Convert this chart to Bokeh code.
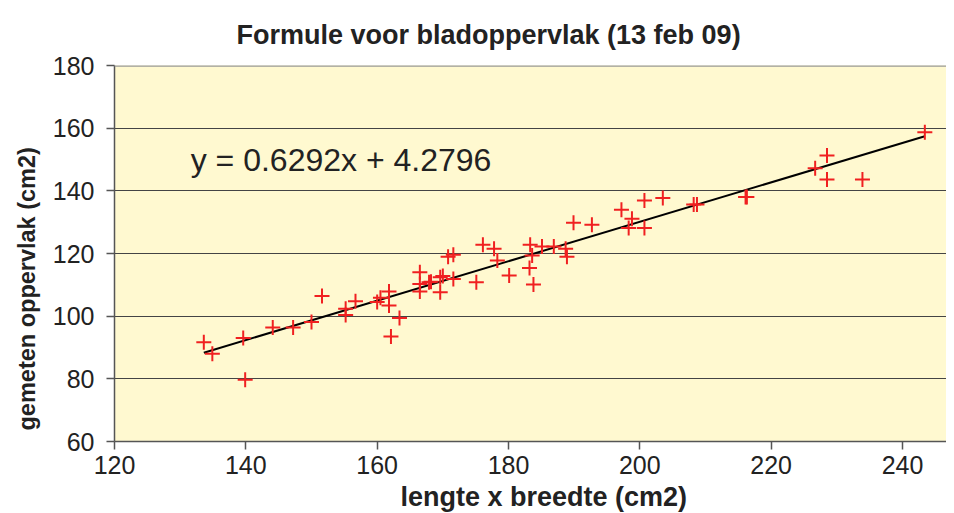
from bokeh.plotting import figure
from bokeh.models import Range1d, FixedTicker, Label, Span, ColumnDataSource, Title
from bokeh.embed import file_html
from bokeh.resources import INLINE

# ---- data ----
lengte_x_breedte = [133.6, 134.9, 139.6, 139.9, 144.1, 147.2, 150.0, 151.6, 155.2, 155.2,
                    156.7, 160.0, 160.5, 161.8, 161.8, 162.1, 163.4, 166.5, 166.5, 166.5,
                    167.9, 168.2, 169.6, 169.6, 170.0, 170.8, 171.6, 171.6, 175.1, 176.1,
                    177.8, 178.3, 180.1, 183.3, 183.6, 183.2, 183.8, 185.1, 186.9, 188.7,
                    188.9, 189.9, 192.7, 197.2, 198.8, 198.3, 200.7, 200.7, 203.5, 208.2,
                    208.7, 216.1, 216.3, 226.7, 228.5, 228.5, 233.9, 243.4]
gemeten_oppervlak = [91.7, 88.0, 93.0, 79.7, 96.4, 96.4, 98.1, 106.4, 102.4, 100.4,
                     104.8, 104.5, 105.9, 107.9, 103.4, 93.5, 99.4, 114.0, 110.3, 107.9,
                     110.8, 111.0, 112.4, 107.6, 112.8, 119.0, 119.6, 111.9, 110.8, 122.8,
                     121.5, 117.8, 113.0, 122.8, 119.4, 115.4, 110.1, 122.2, 122.2, 121.5,
                     119.0, 129.8, 129.2, 134.0, 131.1, 128.1, 136.9, 128.1, 137.7, 135.6,
                     135.6, 138.0, 138.0, 147.2, 151.3, 143.6, 143.6, 158.7]
slope = 0.6292
intercept = 4.2796
x_ticks = [120, 140, 160, 180, 200, 220, 240]
y_ticks = [60, 80, 100, 120, 140, 160, 180]

title_text = "Formule voor bladoppervlak (13 feb 09)"
x_label = "lengte x breedte (cm2)"
y_label = "gemeten oppervlak (cm2)"
eq_text = "y = %.4fx + %.4f" % (slope, intercept)

FONT = "Liberation Sans"
TXT = "#222222"

p = figure(frame_width=832, frame_height=376,
           min_border_left=114, min_border_top=65, min_border_right=0, min_border_bottom=64,
           output_backend="svg", toolbar_location=None,
           x_range=Range1d(120, 246.7), y_range=Range1d(60, 180))
p.background_fill_color = "#FFF9D0"
p.border_fill_color = "white"
p.outline_line_color = None

# axes
for ax in (p.xaxis[0], p.yaxis[0]):
    ax.axis_line_color = "#555555"
    ax.axis_line_width = 1.5
    ax.major_tick_line_color = "#555555"
    ax.major_tick_line_width = 1.5
    ax.major_tick_out = 8
    ax.major_tick_in = 0
    ax.minor_tick_line_color = None
    ax.major_label_text_font = FONT
    ax.major_label_text_font_size = "25px"
    ax.major_label_text_color = TXT
p.xaxis.ticker = FixedTicker(ticks=x_ticks)
p.yaxis.ticker = FixedTicker(ticks=y_ticks)
p.xaxis.major_label_standoff = 6
p.yaxis.major_label_standoff = 12

p.xgrid.grid_line_color = None
p.ygrid.ticker = FixedTicker(ticks=y_ticks)
p.ygrid.grid_line_color = "#444444"
p.ygrid.grid_line_width = 1

p.add_layout(Span(location=y_ticks[-1], dimension="width", line_color="#999999", line_width=2.5))

# regression line
xmin, xmax = min(lengte_x_breedte), max(lengte_x_breedte)
p.line([xmin, xmax], [slope * xmin + intercept, slope * xmax + intercept],
       line_color="black", line_width=2)

# points
src = ColumnDataSource(dict(x=lengte_x_breedte, y=gemeten_oppervlak))
p.scatter("x", "y", source=src, marker="cross", size=15, line_color="#F02020", line_width=2)

# equation
p.add_layout(Label(x=131.6, y=149.7, text=eq_text, text_font=FONT, text_font_size="32px",
                   text_color=TXT, text_baseline="middle", text_align="left"))

# title and axis titles
p.add_layout(Title(text=title_text, align="left", offset=122, text_font=FONT,
                   text_font_size="27px", text_font_style="bold", text_color=TXT,
                   standoff=32), "above")
p.add_layout(Title(text=x_label, align="left", offset=286, text_font=FONT,
                   text_font_size="27px", text_font_style="bold", text_color=TXT,
                   standoff=6), "below")
p.add_layout(Title(text=y_label, align="left", offset=11, text_font=FONT,
                   text_font_size="23.5px", text_font_style="bold", text_color=TXT,
                   standoff=20), "left")

open("out.html", "w").write(file_html(p, INLINE))
